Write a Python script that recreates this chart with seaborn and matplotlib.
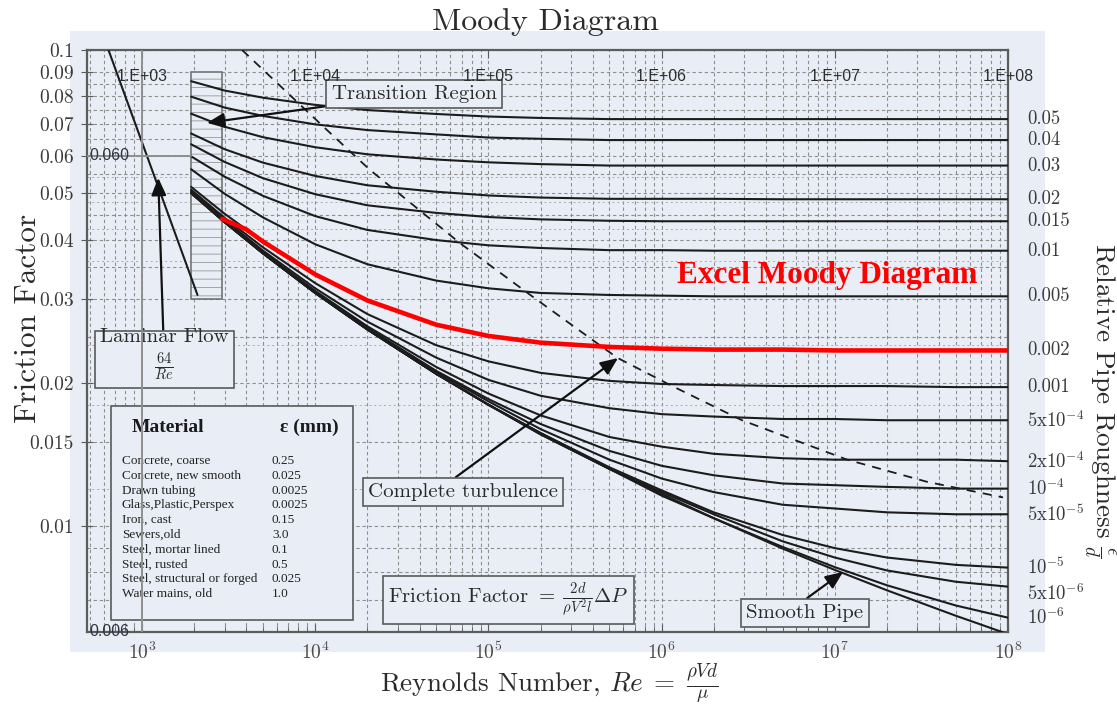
import matplotlib
matplotlib.use("Agg")
import matplotlib.pyplot as plt
import matplotlib.transforms as mtransforms
from matplotlib.patches import Rectangle
from matplotlib.ticker import FixedLocator, LogLocator, NullFormatter
import pandas as pd
import seaborn as sns

# ---------------------------------------------------------------- data
# Reynolds numbers at which each roughness curve is tabulated
re_grid = [1.92e3, 3e3, 5e3, 1e4, 2e4, 5e4, 1e5, 2e5, 5e5, 1e6, 2e6, 5e6, 1e7, 2e7, 5e7, 1e8]

# relative roughness of each curve (label drawn at the right edge)
roughness = ["0.05", "0.04", "0.03", "0.02", "0.015", "0.01", "0.005", "0.002", "0.001",
             r"5x$10^{-4}$", r"2x$10^{-4}$", r"$10^{-4}$", r"5x$10^{-5}$",
             r"$10^{-5}$", r"5x$10^{-6}$", r"$10^{-6}$", "smooth"]

f_0p05 = [0.0860, 0.0822, 0.0794, 0.0767, 0.0748, 0.0734, 0.0725, 0.0720, 0.0716, 0.0716, 0.0716, 0.0716, 0.0716, 0.0716, 0.0716, 0.0716]
f_0p04 = [0.0798, 0.0757, 0.0727, 0.0698, 0.0679, 0.0665, 0.0655, 0.0651, 0.0647, 0.0647, 0.0647, 0.0647, 0.0647, 0.0647, 0.0647, 0.0647]
f_0p03 = [0.0735, 0.0690, 0.0656, 0.0625, 0.0604, 0.0589, 0.0581, 0.0576, 0.0572, 0.0572, 0.0572, 0.0572, 0.0572, 0.0572, 0.0572, 0.0572]
f_0p02 = [0.0668, 0.0619, 0.0580, 0.0544, 0.0520, 0.0504, 0.0495, 0.0490, 0.0487, 0.0487, 0.0487, 0.0486, 0.0486, 0.0486, 0.0486, 0.0486]
f_0p015 = [0.0634, 0.0582, 0.0538, 0.0498, 0.0472, 0.0455, 0.0446, 0.0441, 0.0438, 0.0437, 0.0437, 0.0437, 0.0437, 0.0437, 0.0437, 0.0437]
f_0p01 = [0.0598, 0.0542, 0.0494, 0.0448, 0.0419, 0.0399, 0.0389, 0.0384, 0.0380, 0.0380, 0.0379, 0.0379, 0.0379, 0.0379, 0.0379, 0.0379]
f_0p005 = [0.0562, 0.0499, 0.0445, 0.0391, 0.0355, 0.0328, 0.0316, 0.0309, 0.0306, 0.0305, 0.0304, 0.0304, 0.0304, 0.0304, 0.0304, 0.0304]
f_0p002 = [0.0516, 0.0453, 0.0396, 0.0338, 0.0298, 0.0265, 0.0251, 0.0243, 0.0238, 0.0236, 0.0235, 0.0235, 0.0234, 0.0234, 0.0234, 0.0234]
f_0p001 = [0.0509, 0.0444, 0.0385, 0.0324, 0.0279, 0.0240, 0.0222, 0.0210, 0.0202, 0.0199, 0.0198, 0.0197, 0.0197, 0.0197, 0.0196, 0.0196]
f_5em4 = [0.0505, 0.0440, 0.0379, 0.0316, 0.0269, 0.0226, 0.0203, 0.0188, 0.0177, 0.0172, 0.0170, 0.0168, 0.0168, 0.0167, 0.0167, 0.0167]
f_2em4 = [0.0503, 0.0437, 0.0376, 0.0312, 0.0263, 0.0216, 0.0190, 0.0171, 0.0154, 0.0147, 0.0142, 0.0139, 0.0138, 0.0138, 0.0138, 0.0137]
f_1em4 = [0.0502, 0.0436, 0.0375, 0.0310, 0.0261, 0.0212, 0.0185, 0.0164, 0.0144, 0.0134, 0.0128, 0.0123, 0.0122, 0.0121, 0.0120, 0.0120]
f_5em5 = [0.0501, 0.0436, 0.0375, 0.0310, 0.0260, 0.0211, 0.0183, 0.0160, 0.0138, 0.0126, 0.0118, 0.0111, 0.0109, 0.0107, 0.0106, 0.0106]
f_1em5 = [0.0501, 0.0435, 0.0374, 0.0309, 0.0259, 0.0209, 0.0180, 0.0157, 0.0133, 0.0119, 0.0107, 0.00959, 0.00900, 0.00860, 0.00830, 0.00819]
f_5em6 = [0.0501, 0.0435, 0.0374, 0.0309, 0.0259, 0.0209, 0.0180, 0.0157, 0.0132, 0.0118, 0.0106, 0.00930, 0.00860, 0.00808, 0.00765, 0.00747]
f_1em6 = [0.0501, 0.0435, 0.0374, 0.0309, 0.0259, 0.0209, 0.0180, 0.0156, 0.0132, 0.0117, 0.0104, 0.00905, 0.00821, 0.00752, 0.00682, 0.00643]
f_smooth = [0.0501, 0.0435, 0.0374, 0.0309, 0.0259, 0.0209, 0.0180, 0.0156, 0.0132, 0.0116, 0.0104, 0.00898, 0.00810, 0.00734, 0.00649, 0.00594]

friction = [f_0p05, f_0p04, f_0p03, f_0p02, f_0p015, f_0p01, f_0p005, f_0p002, f_0p001,
            f_5em4, f_2em4, f_1em4, f_5em5, f_1em5, f_5em6, f_1em6, f_smooth]

# Excel series (relative roughness 0.002)
excel_re = [2.9e3, 4e3, 5e3, 1e4, 2e4, 5e4, 1e5, 2e5, 5e5, 1e6, 2e6, 5e6, 1e7, 2e7, 5e7, 1e8]
excel_f = [0.0442, 0.0420, 0.0396, 0.0338, 0.0298, 0.0265, 0.0251, 0.0243, 0.0238, 0.0236, 0.0235, 0.0235, 0.0234, 0.0234, 0.0234, 0.0234]

# laminar line 64/Re
laminar_re = [640, 2090]
laminar_f = [0.1, 0.0306]

# boundary of the complete-turbulence zone
turb_re = [3.78e3, 1.17e4, 2.07e4, 6.86e4, 1.81e5, 5.53e5, 1.12e6, 2.91e6, 1.18e7, 3.41e7, 9.36e7]
turb_f = [0.1, 0.0679, 0.0560, 0.0393, 0.0303, 0.0226, 0.0198, 0.0167, 0.0138, 0.0124, 0.0115]

# transition band
trans_re = [1.92e3, 2.9e3]
trans_f = [0.030, 0.090]

materials = ["Concrete, coarse", "Concrete, new smooth", "Drawn tubing", "Glass,Plastic,Perspex",
             "Iron, cast", "Sewers,old", "Steel, mortar lined", "Steel, rusted",
             "Steel, structural or forged", "Water mains, old"]
eps_mm = ["0.25", "0.025", "0.0025", "0.0025", "0.15", "3.0", "0.1", "0.5", "0.025", "1.0"]

y_ticks = [0.1, 0.09, 0.08, 0.07, 0.06, 0.05, 0.04, 0.03, 0.02, 0.015, 0.01]
y_ticklabels = ["0.1", "0.09", "0.08", "0.07", "0.06", "0.05", "0.04", "0.03", "0.02", "0.015", "0.01"]
x_ticks = [1e3, 1e4, 1e5, 1e6, 1e7, 1e8]
x_ticklabels = [r"$10^3$", r"$10^4$", r"$10^5$", r"$10^6$", r"$10^7$", r"$10^8$"]
excel_xlabels = ["1.E+03", "1.E+04", "1.E+05", "1.E+06", "1.E+07", "1.E+08"]
excel_ylabels = [(0.06, "0.060"), (0.006, "0.006")]

# ---------------------------------------------------------------- style
W, H = 1117, 705
BG = "#E9EEF6"
INK = "#2a2a2a"
LINE = "#1c1c1c"
FRAME = "#5c5c5c"
GRID = "#8e8e8e"

sns.set_style("ticks")
plt.rcParams.update({
    "font.family": ["cmr10", "DejaVu Serif"],
    "mathtext.fontset": "cm",
    "axes.formatter.use_mathtext": True,
    "axes.unicode_minus": False,
    "hatch.linewidth": 0.7,
})

fig = plt.figure(figsize=(W / 100, H / 100), dpi=100, facecolor="white")
fig.patches.append(Rectangle((70 / W, 1 - 652 / H), 975 / W, 621 / H,
                             transform=fig.transFigure, facecolor=BG,
                             edgecolor="none", zorder=-5))
ax = fig.add_axes([87 / W, 1 - 632 / H, 921 / W, 582 / H])
ax.set_facecolor(BG)
ax.set_xscale("log")
ax.set_yscale("log")

# roughness curves
long = pd.DataFrame({
    "Re": re_grid * len(friction),
    "f": [v for series in friction for v in series],
    "curve": [lab for lab in roughness for _ in re_grid],
})
sns.lineplot(data=long, x="Re", y="f", units="curve", estimator=None, sort=False,
             color=LINE, lw=1.5, ax=ax, zorder=3)
sns.lineplot(x=laminar_re, y=laminar_f, estimator=None, sort=False,
             color=LINE, lw=1.5, ax=ax, zorder=3)
sns.lineplot(x=turb_re, y=turb_f, estimator=None, sort=False, color=LINE, lw=1.3,
             linestyle=(0, (5, 4)), ax=ax, zorder=3)
sns.lineplot(x=excel_re, y=excel_f, estimator=None, sort=False, color="#ff0000",
             lw=3.3, ax=ax, zorder=4)

# hatched transition band: light dashed texture plus a darker outline
ax.add_patch(Rectangle((trans_re[0], trans_f[0]), trans_re[1] - trans_re[0],
                       trans_f[1] - trans_f[0], facecolor=BG, edgecolor="#a4a4a4",
                       hatch="--", lw=0, zorder=2))
ax.add_patch(Rectangle((trans_re[0], trans_f[0]), trans_re[1] - trans_re[0],
                       trans_f[1] - trans_f[0], fill=False, edgecolor="#6a6a6a",
                       lw=1.1, zorder=2.1))

# axes limits, ticks and frame
ax.set_xlim(481, 1e8)
ax.set_ylim(0.006, 0.1)
ax.set_xticks(x_ticks)
ax.set_xticklabels(x_ticklabels)
ax.xaxis.set_minor_locator(LogLocator(base=10, subs=(2, 3, 4, 5, 6, 7, 8, 9), numticks=20))
ax.xaxis.set_minor_formatter(NullFormatter())
ax.set_yticks(y_ticks)
ax.set_yticklabels(y_ticklabels)
ax.yaxis.set_minor_locator(FixedLocator([0.007, 0.008, 0.009, 0.025, 0.035, 0.045,
                                         0.055, 0.065, 0.075, 0.085]))
ax.yaxis.set_minor_formatter(NullFormatter())
ax.set_xlabel("")
ax.set_ylabel("")
ax.tick_params(axis="x", which="major", direction="in", length=6, top=True,
               labelsize=14, labelcolor="#4a4a4a", color=FRAME, pad=7)
ax.tick_params(axis="x", which="minor", direction="in", length=4, top=False, color=FRAME)
ax.tick_params(axis="y", which="major", direction="inout", length=9,
               labelsize=14, labelcolor="#3a3a3a", color=FRAME, pad=5)
ax.tick_params(axis="y", which="minor", length=0)
for sp in ax.spines.values():
    sp.set_color(FRAME)
    sp.set_linewidth(1.6)
    sp.set_visible(True)

ax.grid(True, which="both", axis="both", color=GRID, lw=0.8, linestyle=(0, (3, 2.5)), zorder=1)
for yv in [0.012, 0.018, 0.024, 0.036, 0.042, 0.048, 0.054]:
    ax.axhline(yv, color="#a9a9a9", lw=0.7, linestyle=(0, (2, 3)), zorder=1)

# right-hand roughness labels at the end of each curve
label_shift = {r"5x$10^{-6}$": -5}
for lab, series in zip(roughness, friction):
    if lab == "smooth":
        continue
    ax.annotate(lab, xy=(1, series[-1]), xycoords=("axes fraction", "data"),
                xytext=(14, label_shift.get(lab, 0)), textcoords="offset points",
                ha="left", va="center", fontsize=13.5, color="#3a3a3a",
                annotation_clip=False)

# annotations
box = dict(boxstyle="square,pad=0.25", fc=BG, ec="#5a5a5a", lw=1.2)
arrow = dict(arrowstyle="-|>,head_length=0.7,head_width=0.3", color="#111111",
             lw=1.6, shrinkA=0, shrinkB=0)
ax.annotate("Transition Region", xy=(2.37e3, 0.0703), xytext=(3.72e4, 0.0809),
            ha="center", va="center", fontsize=15, color=INK, bbox=box,
            arrowprops=arrow, zorder=6, annotation_clip=False)
ax.annotate("Laminar Flow\n" + r"$\frac{64}{Re}$", xy=(1.24e3, 0.0539), xytext=(1.34e3, 0.0228),
            ha="center", va="center", multialignment="center", fontsize=15, color=INK,
            bbox=box, arrowprops=arrow, zorder=6, annotation_clip=False)
ax.annotate("Complete turbulence", xy=(5.6e5, 0.02256), xytext=(7.13e4, 0.0118),
            ha="center", va="center", fontsize=15, color=INK, bbox=box,
            arrowprops=dict(arrow, relpos=(0.42, 1.0)), zorder=6, annotation_clip=False)
ax.annotate("Smooth Pipe", xy=(1.115e7, 0.00802), xytext=(6.73e6, 0.00658),
            ha="center", va="center", fontsize=15, color=INK, bbox=box,
            arrowprops=dict(arrow, relpos=(0.45, 1.0)), zorder=6, annotation_clip=False)
ax.text(1.3e5, 0.0070, r"Friction Factor $=\;\frac{2d}{\rho V^2 l}\Delta P$",
        ha="center", va="center", fontsize=15, color=INK, bbox=box, zorder=6)

# material roughness table
ax.add_patch(Rectangle((111 / W, 1 - 620 / H), 242 / W, 214 / H, transform=fig.transFigure,
                       facecolor=BG, edgecolor="#5a5a5a", lw=1.2, zorder=6, clip_on=False))
ax.text(132 / W, 1 - 427 / H, "Material", transform=fig.transFigure, fontsize=14,
        fontweight="bold", family="Liberation Serif", color="#1a1a1a", va="center", zorder=7)
ax.text(280 / W, 1 - 427 / H, "ε (mm)", transform=fig.transFigure, fontsize=14,
        fontweight="bold", family="Liberation Serif", color="#1a1a1a", va="center", zorder=7)
for i, (name, eps) in enumerate(zip(materials, eps_mm)):
    ypx = 461 + i * 14.8
    ax.text(122 / W, 1 - ypx / H, name, transform=fig.transFigure, fontsize=9.5,
            family="Liberation Serif", color="#222222", va="center", zorder=7)
    ax.text(272 / W, 1 - ypx / H, eps, transform=fig.transFigure, fontsize=9.5,
            family="Liberation Serif", color="#222222", va="center", zorder=7)

# Excel chart overlay: axis lines, labels and title
ax.axvline(1e3, color="#8f8f8f", lw=1.4, zorder=8)
ax.plot([481, trans_re[0]], [0.06, 0.06], color="#8f8f8f", lw=1.4, zorder=8)
xblend = mtransforms.blended_transform_factory(ax.transData, ax.transAxes)
for xv, lab in zip(x_ticks, excel_xlabels):
    ax.text(xv, 0.9553, lab, transform=xblend, ha="center", va="center", fontsize=11.5,
            family="Liberation Sans", color="#2e2e2e", zorder=9)
for yv, lab in excel_ylabels:
    ax.annotate(lab, xy=(1e3, yv), xytext=(-9, 0), textcoords="offset points",
                ha="right", va="center", fontsize=11.5, family="Liberation Sans",
                color="#2e3440", zorder=9, annotation_clip=False)
ax.text(9.0e6, 0.0337, "Excel Moody Diagram", ha="center", va="center", fontsize=22.5,
        fontweight="bold", family="Liberation Serif", color="#ff0000", zorder=9)

# titles
fig.text(546 / W, 1 - 22 / H, "Moody Diagram", ha="center", va="center", fontsize=23, color=INK)
fig.text(28 / W, 1 - 318 / H, "Friction Factor", rotation=90, ha="center", va="center",
         fontsize=22.5, color=INK)
fig.text(549 / W, 1 - 683 / H, r"Reynolds Number, $Re\;=\;\frac{\rho V d}{\mu}$", ha="center",
         va="center", fontsize=19.5, color=INK)
fig.text(1099 / W, 1 - 400 / H, r"Relative Pipe Roughness $\frac{\epsilon}{d}$", rotation=270,
         ha="center", va="center", fontsize=19.5, color=INK)

fig.savefig("out.png", dpi=100, facecolor="white")
